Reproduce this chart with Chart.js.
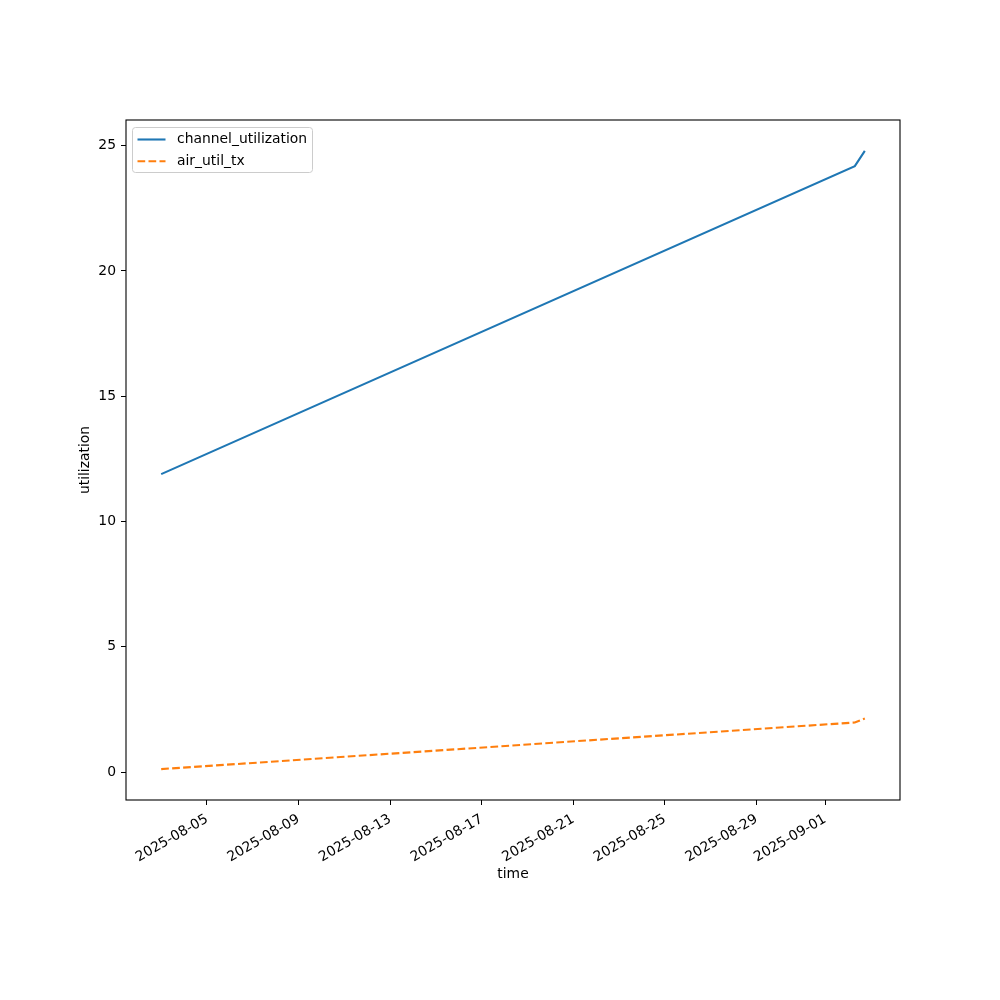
<!DOCTYPE html>
<html>
<head>
<meta charset="utf-8">
<script src="https://cdn.jsdelivr.net/npm/chart.js@4.4.1/dist/chart.umd.min.js"></script>
<style>
    body { margin: 0; background: #fff; }
    canvas { display: block; }
</style>
</head>
<body>
<canvas id="utilChart" width="1000" height="1000"></canvas>
<script>
// Data
const times = ['2025-08-03T00:00Z', '2025-09-02T07:00Z', '2025-09-02T17:30Z'];
const channelUtilization = [11.89, 24.18, 24.79];
const airUtilTx = [0.12, 1.98, 2.14];
const xTickLabels = ['2025-08-05', '2025-08-09', '2025-08-13', '2025-08-17', '2025-08-21',
                     '2025-08-25', '2025-08-29', '2025-09-01'];
const yTickValues = [0, 5, 10, 15, 20, 25];

const FONT = { family: 'DejaVu Sans', size: 13.9 };

// matplotlib-like 5% margins around the data
function padRange(values) {
    const lo = Math.min(...values), hi = Math.max(...values);
    const m = (hi - lo) * 0.05;
    return [lo - m, hi + m];
}

const xs = times.map(t => Date.parse(t));
const [xMin, xMax] = padRange(xs);
const [yMin, yMax] = padRange(channelUtilization.concat(airUtilTx));

// Frame around the axes and an in-axes legend (upper left)
const framePlugin = {
    id: 'frame',
    afterDraw(chart) {
        const { ctx, chartArea: a } = chart;
        ctx.save();
        ctx.strokeStyle = '#000';
        ctx.lineWidth = 1.1;
        ctx.strokeRect(a.left, a.top, a.right - a.left, a.bottom - a.top);

        // legend box
        const bx = a.left + 6.5, by = a.top + 7.5, bw = 180, bh = 45;
        ctx.beginPath();
        ctx.roundRect(bx, by, bw, bh, 3);
        ctx.fillStyle = 'rgba(255,255,255,0.8)';
        ctx.fill();
        ctx.strokeStyle = 'rgba(204,204,204,1)';
        ctx.lineWidth = 1;
        ctx.stroke();

        ctx.font = `${FONT.size}px ${FONT.family}`;
        ctx.textBaseline = 'middle';
        chart.data.datasets.forEach((ds, i) => {
            const y = a.top + 19.5 + i * 21.7;
            ctx.beginPath();
            ctx.setLineDash(ds.borderDash || []);
            ctx.strokeStyle = ds.borderColor;
            ctx.lineWidth = ds.borderWidth;
            ctx.moveTo(a.left + 11.5, y);
            ctx.lineTo(a.left + 39.5, y);
            ctx.stroke();
            ctx.setLineDash([]);
            ctx.fillStyle = '#000';
            ctx.fillText(ds.label, a.left + 51, y);
        });
        ctx.restore();
    }
};

new Chart(document.getElementById('utilChart'), {
    type: 'line',
    data: {
        datasets: [{
            label: 'channel_utilization',
            data: xs.map((x, i) => ({ x: x, y: channelUtilization[i] })),
            borderColor: '#1f77b4',
            borderWidth: 2.1,
            pointRadius: 0,
            tension: 0
        }, {
            label: 'air_util_tx',
            data: xs.map((x, i) => ({ x: x, y: airUtilTx[i] })),
            borderColor: '#ff7f0e',
            borderWidth: 2.1,
            borderDash: [7.7, 3.3],
            pointRadius: 0,
            tension: 0
        }]
    },
    options: {
        responsive: false,
        animation: false,
        layout: { padding: { left: 77, right: 100, top: 120, bottom: 117 } },
        plugins: { legend: { display: false }, tooltip: { enabled: false } },
        scales: {
            x: {
                type: 'linear',
                min: xMin,
                max: xMax,
                afterBuildTicks: scale => {
                    scale.ticks = xTickLabels.map(d => ({ value: Date.parse(d + 'T00:00Z') }));
                },
                afterFit: scale => { scale.height = 83; },
                grid: { drawOnChartArea: false, drawTicks: true, tickLength: 5, color: '#000' },
                border: { display: false },
                ticks: {
                    color: '#000',
                    font: FONT,
                    padding: 6,
                    minRotation: 30,
                    maxRotation: 30,
                    autoSkip: false,
                    callback: v => new Date(v).toISOString().slice(0, 10)
                },
                title: { display: true, text: 'time', color: '#000', font: FONT, padding: 0 }
            },
            y: {
                min: yMin,
                max: yMax,
                afterBuildTicks: scale => {
                    scale.ticks = yTickValues.map(v => ({ value: v }));
                },
                afterFit: scale => { scale.width = 49; },
                grid: { drawOnChartArea: false, drawTicks: true, tickLength: 5, color: '#000' },
                border: { display: false },
                ticks: { color: '#000', font: FONT, padding: 5 },
                title: { display: true, text: 'utilization', color: '#000', font: FONT, padding: 0 }
            }
        }
    },
    plugins: [framePlugin]
});
</script>
</body>
</html>
